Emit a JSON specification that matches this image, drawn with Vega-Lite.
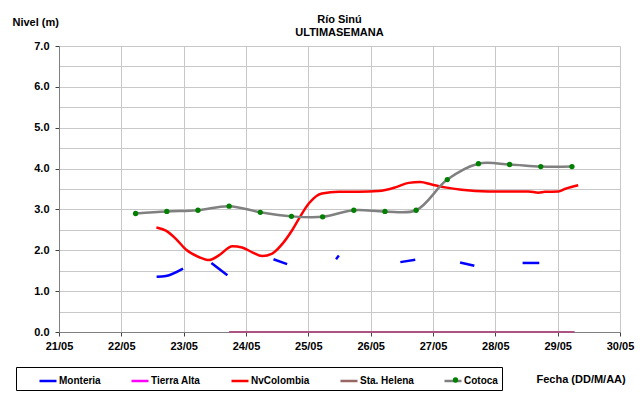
{
  "$schema": "https://vega.github.io/schema/vega-lite/v6.json",
  "autosize": {"type": "none"},
  "width": 561,
  "height": 286,
  "padding": {"left": 59, "top": 46, "right": 21, "bottom": 61},
  "background": "white",
  "title": {
    "text": ["Río Sinú", "ULTIMASEMANA"],
    "fontSize": 11,
    "font": "Liberation Sans",
    "fontWeight": "bold",
    "color": "black",
    "anchor": "middle",
    "lineHeight": 13,
    "offset": 9,
    "dy": 31
  },
  "config": {
    "view": {"stroke": null},
    "font": "Liberation Sans",
    "axis": {
      "labelFont": "Liberation Sans",
      "labelFontSize": 11,
      "labelFontWeight": "bold",
      "labelColor": "black",
      "titleFont": "Liberation Sans",
      "titleFontSize": 11,
      "titleFontWeight": "bold",
      "titleColor": "black",
      "gridColor": "#C8C8C8",
      "gridWidth": 1,
      "domainColor": "#808080",
      "domainWidth": 1,
      "tickColor": "#404040"
    }
  },
  "data": {"values": [
    {"serie": "Monteria", "seg": "m1", "fecha": "2014-05-22T13:35", "nivel": 1.35},
    {"serie": "Monteria", "seg": "m1", "fecha": "2014-05-22T17:10", "nivel": 1.37},
    {"serie": "Monteria", "seg": "m1", "fecha": "2014-05-22T23:45", "nivel": 1.55},
    {"serie": "Monteria", "seg": "m2", "fecha": "2014-05-23T10:40", "nivel": 1.69},
    {"serie": "Monteria", "seg": "m2", "fecha": "2014-05-23T16:50", "nivel": 1.39},
    {"serie": "Monteria", "seg": "m3", "fecha": "2014-05-24T10:35", "nivel": 1.78},
    {"serie": "Monteria", "seg": "m3", "fecha": "2014-05-24T15:50", "nivel": 1.66},
    {"serie": "Monteria", "seg": "m4", "fecha": "2014-05-25T10:40", "nivel": 1.78},
    {"serie": "Monteria", "seg": "m4", "fecha": "2014-05-25T11:45", "nivel": 1.87},
    {"serie": "Monteria", "seg": "m5", "fecha": "2014-05-26T11:25", "nivel": 1.71},
    {"serie": "Monteria", "seg": "m5", "fecha": "2014-05-26T17:10", "nivel": 1.77},
    {"serie": "Monteria", "seg": "m6", "fecha": "2014-05-27T10:25", "nivel": 1.70},
    {"serie": "Monteria", "seg": "m6", "fecha": "2014-05-27T15:55", "nivel": 1.62},
    {"serie": "Monteria", "seg": "m7", "fecha": "2014-05-28T10:30", "nivel": 1.69},
    {"serie": "Monteria", "seg": "m7", "fecha": "2014-05-28T16:55", "nivel": 1.69},
    {"serie": "Tierra Alta", "seg": "t", "fecha": "2014-05-23T17:30", "nivel": 0},
    {"serie": "Tierra Alta", "seg": "t", "fecha": "2014-05-29T06:30", "nivel": 0},
    {"serie": "Sta. Helena", "seg": "s", "fecha": "2014-05-23T17:30", "nivel": 0},
    {"serie": "Sta. Helena", "seg": "s", "fecha": "2014-05-29T06:30", "nivel": 0},
    {"serie": "NvColombia", "seg": "n", "fecha": "2014-05-22T13:30", "nivel": 2.56},
    {"serie": "NvColombia", "seg": "n", "fecha": "2014-05-22T17:10", "nivel": 2.48},
    {"serie": "NvColombia", "seg": "n", "fecha": "2014-05-22T21:00", "nivel": 2.28},
    {"serie": "NvColombia", "seg": "n", "fecha": "2014-05-23T00:50", "nivel": 2.02},
    {"serie": "NvColombia", "seg": "n", "fecha": "2014-05-23T06:00", "nivel": 1.83},
    {"serie": "NvColombia", "seg": "n", "fecha": "2014-05-23T09:45", "nivel": 1.76},
    {"serie": "NvColombia", "seg": "n", "fecha": "2014-05-23T13:40", "nivel": 1.88},
    {"serie": "NvColombia", "seg": "n", "fecha": "2014-05-23T18:45", "nivel": 2.10},
    {"serie": "NvColombia", "seg": "n", "fecha": "2014-05-23T22:30", "nivel": 2.07},
    {"serie": "NvColombia", "seg": "n", "fecha": "2014-05-24T02:25", "nivel": 1.95},
    {"serie": "NvColombia", "seg": "n", "fecha": "2014-05-24T06:15", "nivel": 1.86},
    {"serie": "NvColombia", "seg": "n", "fecha": "2014-05-24T10:05", "nivel": 1.92},
    {"serie": "NvColombia", "seg": "n", "fecha": "2014-05-24T13:55", "nivel": 2.15},
    {"serie": "NvColombia", "seg": "n", "fecha": "2014-05-24T17:45", "nivel": 2.49},
    {"serie": "NvColombia", "seg": "n", "fecha": "2014-05-24T21:05", "nivel": 2.85},
    {"serie": "NvColombia", "seg": "n", "fecha": "2014-05-25T00:15", "nivel": 3.15},
    {"serie": "NvColombia", "seg": "n", "fecha": "2014-05-25T05:15", "nivel": 3.39},
    {"serie": "NvColombia", "seg": "n", "fecha": "2014-05-25T11:45", "nivel": 3.43},
    {"serie": "NvColombia", "seg": "n", "fecha": "2014-05-25T19:25", "nivel": 3.43},
    {"serie": "NvColombia", "seg": "n", "fecha": "2014-05-26T03:00", "nivel": 3.45},
    {"serie": "NvColombia", "seg": "n", "fecha": "2014-05-26T09:30", "nivel": 3.54},
    {"serie": "NvColombia", "seg": "n", "fecha": "2014-05-26T14:40", "nivel": 3.65},
    {"serie": "NvColombia", "seg": "n", "fecha": "2014-05-26T19:05", "nivel": 3.67},
    {"serie": "NvColombia", "seg": "n", "fecha": "2014-05-26T23:30", "nivel": 3.61},
    {"serie": "NvColombia", "seg": "n", "fecha": "2014-05-27T04:40", "nivel": 3.54},
    {"serie": "NvColombia", "seg": "n", "fecha": "2014-05-27T11:00", "nivel": 3.48},
    {"serie": "NvColombia", "seg": "n", "fecha": "2014-05-27T21:20", "nivel": 3.44},
    {"serie": "NvColombia", "seg": "n", "fecha": "2014-05-28T12:45", "nivel": 3.44},
    {"serie": "NvColombia", "seg": "n", "fecha": "2014-05-28T16:35", "nivel": 3.41},
    {"serie": "NvColombia", "seg": "n", "fecha": "2014-05-28T19:05", "nivel": 3.43},
    {"serie": "NvColombia", "seg": "n", "fecha": "2014-05-29T00:15", "nivel": 3.44},
    {"serie": "NvColombia", "seg": "n", "fecha": "2014-05-29T02:45", "nivel": 3.50},
    {"serie": "NvColombia", "seg": "n", "fecha": "2014-05-29T07:55", "nivel": 3.59},
    {"serie": "Cotoca", "seg": "c", "fecha": "2014-05-22T05:30", "nivel": 2.90},
    {"serie": "Cotoca", "seg": "c", "fecha": "2014-05-22T17:30", "nivel": 2.95},
    {"serie": "Cotoca", "seg": "c", "fecha": "2014-05-23T05:30", "nivel": 2.98},
    {"serie": "Cotoca", "seg": "c", "fecha": "2014-05-23T17:30", "nivel": 3.08},
    {"serie": "Cotoca", "seg": "c", "fecha": "2014-05-24T05:30", "nivel": 2.93},
    {"serie": "Cotoca", "seg": "c", "fecha": "2014-05-24T17:30", "nivel": 2.83},
    {"serie": "Cotoca", "seg": "c", "fecha": "2014-05-25T05:30", "nivel": 2.82},
    {"serie": "Cotoca", "seg": "c", "fecha": "2014-05-25T17:30", "nivel": 2.98},
    {"serie": "Cotoca", "seg": "c", "fecha": "2014-05-26T05:30", "nivel": 2.95},
    {"serie": "Cotoca", "seg": "c", "fecha": "2014-05-26T17:30", "nivel": 2.98},
    {"serie": "Cotoca", "seg": "c", "fecha": "2014-05-27T05:30", "nivel": 3.73},
    {"serie": "Cotoca", "seg": "c", "fecha": "2014-05-27T17:30", "nivel": 4.12},
    {"serie": "Cotoca", "seg": "c", "fecha": "2014-05-28T05:30", "nivel": 4.10},
    {"serie": "Cotoca", "seg": "c", "fecha": "2014-05-28T17:30", "nivel": 4.05},
    {"serie": "Cotoca", "seg": "c", "fecha": "2014-05-29T05:30", "nivel": 4.05}
  ]},
  "encoding": {
    "x": {
      "field": "fecha",
      "type": "temporal",
      "scale": {"domain": ["2014-05-21T00:00", "2014-05-30T00:00"], "nice": false},
      "axis": {
        "title": "Fecha (DD/M/AA)",
        "format": "%d/%m",
        "tickCount": {"interval": "day", "step": 1},
        "labelPadding": 4,
        "tickSize": 4,
        "labelFlush": false,
        "labelOverlap": false,
        "titleAnchor": "start",
        "titleAlign": "left",
        "titleBaseline": "middle",
        "titleX": 477,
        "titleY": 47
      }
    },
    "y": {
      "field": "nivel",
      "type": "quantitative",
      "scale": {"domain": [0, 7], "nice": false, "zero": true},
      "axis": {
        "title": "Nivel (m)",
        "titleAngle": 0,
        "titleAlign": "left",
        "titleBaseline": "middle",
        "titleAnchor": "start",
        "titleX": -47,
        "titleY": -24,
        "values": [0, 0.5, 1, 1.5, 2, 2.5, 3, 3.5, 4, 4.5, 5, 5.5, 6, 6.5, 7],
        "labelExpr": "datum.value % 1 === 0 ? format(datum.value, '.1f') : ''",
        "tickOpacity": {"condition": {"test": "datum.value % 1 !== 0", "value": 0}, "value": 1},
        "tickSize": 4,
        "labelPadding": 6
      }
    }
  },
  "layer": [
    {
      "transform": [{"filter": "datum.serie === 'Sta. Helena'"}],
      "mark": {"type": "line", "strokeWidth": 2},
      "encoding": {
        "color": {"field": "serie", "type": "nominal"},
        "detail": {"field": "seg"}
      }
    },
    {
      "transform": [{"filter": "datum.serie === 'Tierra Alta'"}],
      "mark": {"type": "line", "strokeWidth": 2, "opacity": 0.18},
      "encoding": {
        "color": {"field": "serie", "type": "nominal"},
        "detail": {"field": "seg"}
      }
    },
    {
      "transform": [{"filter": "datum.serie === 'Monteria' || datum.serie === 'NvColombia'"}],
      "mark": {"type": "line", "strokeWidth": 2.5, "interpolate": "monotone"},
      "encoding": {
        "color": {"field": "serie", "type": "nominal"},
        "detail": {"field": "seg"}
      }
    },
    {
      "transform": [{"filter": "datum.serie === 'Cotoca'"}],
      "mark": {"type": "line", "strokeWidth": 2.5, "interpolate": "catmull-rom"},
      "encoding": {
        "color": {
          "field": "serie",
          "type": "nominal",
          "scale": {
            "domain": ["Monteria", "Tierra Alta", "NvColombia", "Sta. Helena", "Cotoca"],
            "range": ["#0000FF", "#FF00FF", "#FF0000", "#996666", "#808080"]
          },
          "legend": {
            "title": " ",
            "titleOrient": "left",
            "titlePadding": 18,
            "orient": "none",
            "direction": "horizontal",
            "legendX": -43,
            "legendY": 321,
            "strokeColor": "black",
            "fillColor": "white",
            "padding": 4,
            "columnPadding": 25,
            "symbolType": "stroke",
            "symbolSize": 289,
            "symbolStrokeWidth": 2.5,
            "labelOffset": 1,
            "labelFont": "Liberation Sans",
            "labelFontSize": 10,
            "labelFontWeight": "bold",
            "labelColor": "black",
            "labelExpr": "datum.label === 'Cotoca' ? 'Cotoca\u00a0\u00a0\u00a0\u00a0\u00a0\u00a0\u00a0\u00a0\u00a0\u00a0\u00a0\u00a0' : datum.label",
            "encode": {
              "symbols": {
                "update": {
                  "opacity": {"value": 1}
                }
              }
            }
          }
        }
      }
    },
    {
      "transform": [{"filter": "datum.serie === 'Cotoca'"}],
      "mark": {"type": "circle", "size": 28, "opacity": 1},
      "encoding": {
        "fill": {
          "field": "serie",
          "type": "nominal",
          "scale": {"domain": ["Cotoca"], "range": ["#008000"]},
          "legend": {
            "title": null,
            "orient": "none",
            "legendX": 391.5,
            "legendY": 329,
            "padding": 0,
            "symbolType": "circle",
            "symbolSize": 28,
            "symbolStrokeWidth": 0,
            "labelExpr": "''",
            "labelOpacity": 0
          }
        }
      }
    }
  ]
}
